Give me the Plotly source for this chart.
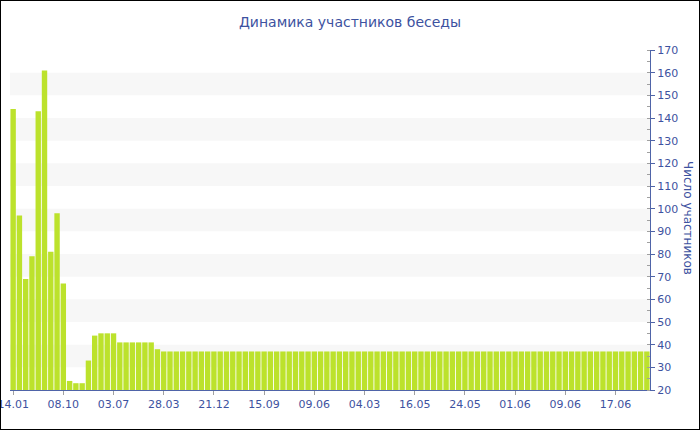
import plotly.graph_objects as go

# Number of chat participants per period
participants = [
    144, 97, 69, 79, 143, 161, 81, 98, 67, 24, 23, 23, 33, 44, 45, 45,
    45, 41, 41, 41, 41, 41, 41, 38, 37, 37, 37, 37, 37, 37, 37, 37,
    37, 37, 37, 37, 37, 37, 37, 37, 37, 37, 37, 37, 37, 37, 37, 37,
    37, 37, 37, 37, 37, 37, 37, 37, 37, 37, 37, 37, 37, 37, 37, 37,
    37, 37, 37, 37, 37, 37, 37, 37, 37, 37, 37, 37, 37, 37, 37, 37,
    37, 37, 37, 37, 37, 37, 37, 37, 37, 37, 37, 37, 37, 37, 37, 37,
    37, 37, 37, 37, 37, 37,
]
period_index = list(range(len(participants)))

# Date labels shown under every eighth bar
tick_positions = [0, 8, 16, 24, 32, 40, 48, 56, 64, 72, 80, 88, 96]
tick_labels = ["14.01", "08.10", "03.07", "28.03", "21.12", "15.09", "09.06",
               "04.03", "16.05", "24.05", "01.06", "09.06", "17.06"]

# Alternating horizontal background bands
band_ranges = [(30, 40), (50, 60), (70, 80), (90, 100), (110, 120), (130, 140), (150, 160)]

TEXT = "#3d52a0"
AXIS = "#4f64a8"
FONT = "DejaVu Sans"

fig = go.Figure(
    go.Bar(
        x=period_index,
        y=participants,
        marker=dict(color="#bce22c", line=dict(width=0)),
        hoverinfo="y",
    )
)

shapes = [
    dict(type="rect", xref="paper", yref="y", x0=0, x1=1, y0=a, y1=b,
         fillcolor="#f7f7f7", line=dict(width=0), layer="below")
    for a, b in band_ranges
]
# Outer frame around the whole chart
W, H = 700, 430
ml, mr, mt, mb = 10, 50, 50, 40
pw, ph = W - ml - mr, H - mt - mb
shapes.append(dict(
    type="rect", xref="paper", yref="paper",
    x0=-ml / pw, x1=1 + mr / pw, y0=-mb / ph, y1=1 + mt / ph,
    line=dict(color="black", width=2), fillcolor="rgba(0,0,0,0)", layer="above",
))

fig.update_layout(
    width=W, height=H,
    margin=dict(l=ml, r=mr, t=mt, b=mb, autoexpand=False),
    paper_bgcolor="white", plot_bgcolor="white",
    bargap=0.14,
    showlegend=False,
    font=dict(family=FONT, color=TEXT, size=12),
    title=dict(text="Динамика участников беседы", x=0.5, xref="container",
               y=1 - 22 / H, yanchor="middle",
               font=dict(family=FONT, size=14, color=TEXT)),
    shapes=shapes,
    annotations=[dict(
        text="Число участников", xref="paper", yref="paper",
        x=1 + 38 / pw, y=1 - (218 - mt) / ph, xanchor="center", yanchor="middle",
        textangle=90, showarrow=False,
        font=dict(family=FONT, size=12, color=TEXT),
    )],
    xaxis=dict(
        range=[-0.5, len(participants) - 0.5],
        tickmode="array", tickvals=tick_positions, ticktext=tick_labels,
        ticklabeloverflow="allow", automargin=False,
        showgrid=False, zeroline=False,
        showline=True, linecolor=AXIS, linewidth=1,
        ticks="outside", ticklen=4, tickcolor="#a0a0a0",
        tickfont=dict(family=FONT, size=11, color=TEXT),
        fixedrange=True,
    ),
    yaxis=dict(
        side="right", automargin=False,
        range=[20, 170], dtick=10, tick0=20,
        showgrid=False, zeroline=False,
        showline=True, linecolor=AXIS, linewidth=1,
        ticks="outside", ticklen=4, tickcolor=AXIS,
        minor=dict(dtick=5, ticks="inside", ticklen=3, tickcolor="#a0a0a0"),
        tickfont=dict(family=FONT, size=11, color=TEXT),
        fixedrange=True,
    ),
)

fig.write_html("out.html")
